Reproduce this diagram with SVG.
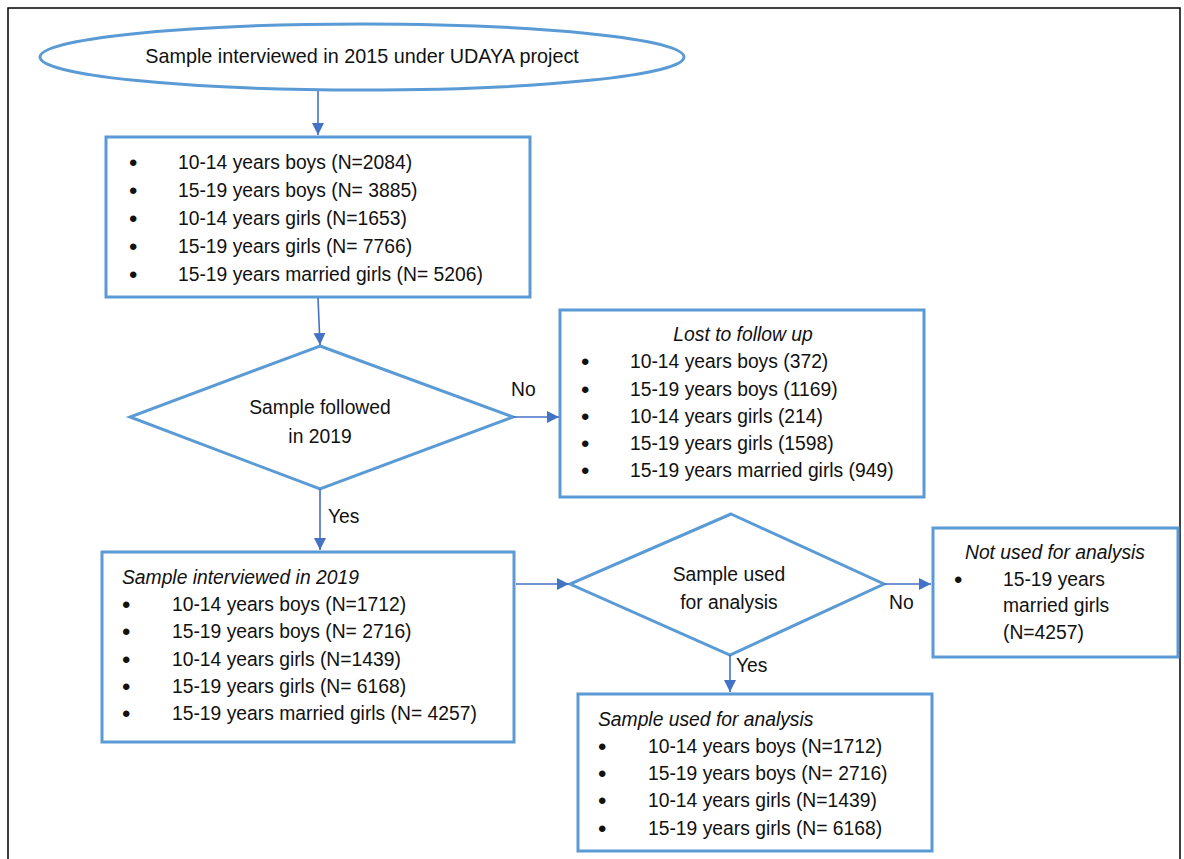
<svg xmlns="http://www.w3.org/2000/svg" width="1184" height="859" viewBox="0 0 1184 859">
<style>
.shape{fill:#fff;stroke:#5B9BD5;stroke-width:3}
.t{font-family:"Liberation Sans",Arial,sans-serif;font-size:19.3px;fill:#111}
.b{font-family:"Liberation Sans",Arial,sans-serif;font-size:24px;fill:#111}
.i{font-style:italic}
.m{text-anchor:middle}
.conn{stroke:#4472C4;stroke-width:1.6;fill:none}
</style>
<defs>
<marker id="ah" viewBox="0 0 10 10" refX="10" refY="5" markerWidth="12" markerHeight="12" markerUnits="userSpaceOnUse" orient="auto"><path d="M0,0L10,5L0,10Z" fill="#4472C4"/></marker>
</defs>
<rect width="1184" height="859" fill="#fff"/>
<path d="M8,859V8H1180V859" fill="none" stroke="#000" stroke-width="1.5"/>

<g id="start">
<ellipse class="shape" cx="362" cy="57" rx="322" ry="33"/>
<text class="t m" x="362" y="63" style="font-size:19.8px">Sample interviewed in 2015 under UDAYA project</text>
</g>

<g id="sample2015">
<rect class="shape" x="106" y="137" width="424" height="160"/>
<g class="t">
<text class="b" x="129" y="171">•</text><text x="178" y="169">10-14 years boys (N=2084)</text>
<text class="b" x="129" y="199">•</text><text x="178" y="197">15-19 years boys (N= 3885)</text>
<text class="b" x="129" y="227">•</text><text x="178" y="225">10-14 years girls (N=1653)</text>
<text class="b" x="129" y="255">•</text><text x="178" y="253">15-19 years girls (N= 7766)</text>
<text class="b" x="129" y="283">•</text><text x="178" y="281">15-19 years married girls (N= 5206)</text>
</g>
</g>

<g id="followed">
<polygon class="shape" points="320,346 513,417 320,489 130,417"/>
<text class="t m" x="320" y="414">Sample followed</text>
<text class="t m" x="320" y="443">in 2019</text>
</g>

<g id="lost">
<rect class="shape" x="560" y="310" width="364" height="187"/>
<g class="t">
<text class="i m" x="743" y="341">Lost to follow up</text>
<text class="b" x="581" y="370">•</text><text x="630" y="368">10-14 years boys (372)</text>
<text class="b" x="581" y="398">•</text><text x="630" y="396">15-19 years boys (1169)</text>
<text class="b" x="581" y="425">•</text><text x="630" y="423">10-14 years girls (214)</text>
<text class="b" x="581" y="452">•</text><text x="630" y="450">15-19 years girls (1598)</text>
<text class="b" x="581" y="479">•</text><text x="630" y="477">15-19 years married girls (949)</text>
</g>
</g>

<g id="sample2019">
<rect class="shape" x="102" y="552" width="412" height="190"/>
<g class="t">
<text class="i" x="122" y="584">Sample interviewed in 2019</text>
<text class="b" x="122" y="613">•</text><text x="172" y="611">10-14 years boys (N=1712)</text>
<text class="b" x="122" y="640">•</text><text x="172" y="638">15-19 years boys (N= 2716)</text>
<text class="b" x="122" y="668">•</text><text x="172" y="666">10-14 years girls (N=1439)</text>
<text class="b" x="122" y="695">•</text><text x="172" y="693">15-19 years girls (N= 6168)</text>
<text class="b" x="122" y="722">•</text><text x="172" y="720">15-19 years married girls (N= 4257)</text>
</g>
</g>

<g id="used">
<polygon class="shape" points="731,514 884,584 730,655 570,584"/>
<text class="t m" x="729" y="581">Sample used</text>
<text class="t m" x="729" y="609">for analysis</text>
</g>

<g id="notused">
<rect class="shape" x="933" y="528" width="245" height="129"/>
<g class="t">
<text class="i m" x="1055" y="559">Not used for analysis</text>
<text class="b" x="954" y="588">•</text><text x="1003" y="586">15-19 years</text>
<text x="1003" y="612">married girls</text>
<text x="1003" y="639">(N=4257)</text>
</g>
</g>

<g id="analysis">
<rect class="shape" x="578" y="694" width="354" height="157"/>
<g class="t">
<text class="i" x="598" y="726">Sample used for analysis</text>
<text class="b" x="598" y="755">•</text><text x="648" y="753">10-14 years boys (N=1712)</text>
<text class="b" x="598" y="782">•</text><text x="648" y="780">15-19 years boys (N= 2716)</text>
<text class="b" x="598" y="809">•</text><text x="648" y="807">10-14 years girls (N=1439)</text>
<text class="b" x="598" y="837">•</text><text x="648" y="835">15-19 years girls (N= 6168)</text>
</g>
</g>

<g id="connectors">
<path class="conn" d="M318,91L318,135" marker-end="url(#ah)"/>
<path class="conn" d="M318,298L320,345" marker-end="url(#ah)"/>
<path class="conn" d="M513,417L559,417" marker-end="url(#ah)"/>
<path class="conn" d="M320,489L320,550" marker-end="url(#ah)"/>
<path class="conn" d="M516,584L569,584" marker-end="url(#ah)"/>
<path class="conn" d="M884,584L931,584" marker-end="url(#ah)"/>
<path class="conn" d="M730,655L730,692" marker-end="url(#ah)"/>
<text class="t" x="511" y="396">No</text>
<text class="t" x="328" y="523">Yes</text>
<text class="t" x="889" y="609">No</text>
<text class="t" x="736" y="672">Yes</text>
</g>
</svg>
